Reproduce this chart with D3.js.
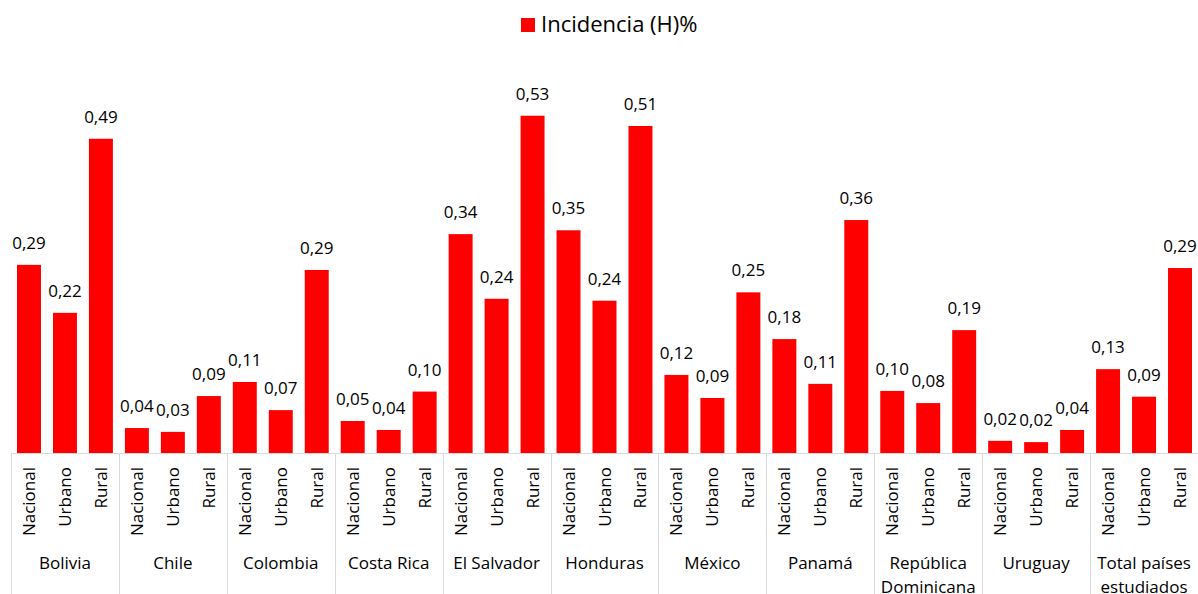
<!DOCTYPE html>
<html>
<head>
<meta charset="utf-8">
<script src="https://cdn.jsdelivr.net/npm/d3@7"></script>
<style>
  html, body { margin: 0; padding: 0; background: #fff; }
  svg { display: block; }
  text { font-family: "Open Sans", "Noto Sans", sans-serif; fill: #000; }
</style>
</head>
<body>
<svg id="chart" width="1198" height="594"></svg>
<script>
const countries = ["Bolivia", "Chile", "Colombia", "Costa Rica", "El Salvador", "Honduras", "México", "Panamá", "República Dominicana", "Uruguay", "Total países estudiados"];
const areas = ["Nacional", "Urbano", "Rural"];
const seriesName = "Incidencia (H)%";
const nacional = [0.294, 0.039, 0.111, 0.050, 0.342, 0.348, 0.122, 0.178, 0.097, 0.019, 0.131];
const urbano   = [0.219, 0.033, 0.067, 0.036, 0.241, 0.238, 0.086, 0.108, 0.078, 0.017, 0.088];
const rural    = [0.491, 0.089, 0.286, 0.096, 0.527, 0.511, 0.251, 0.364, 0.192, 0.036, 0.289];

const W = 1198, H = 594;
const left = 11, right = 1198, baseY = 453;
const svg = d3.select("#chart");

const data = [];
countries.forEach((c, i) => {
  [nacional[i], urbano[i], rural[i]].forEach((v, j) => {
    data.push({ key: c + "|" + areas[j], country: c, area: areas[j], value: v });
  });
});

const x = d3.scaleBand().domain(data.map(d => d.key)).range([left, right])
  .paddingInner(1/3).paddingOuter(1/6);
const xg = d3.scaleBand().domain(countries).range([left, right]);
const y = d3.scaleLinear().domain([0, 0.6]).range([baseY, baseY - 0.6 * 640]);

// bars
svg.append("g").selectAll("rect").data(data).join("rect")
  .attr("x", d => x(d.key))
  .attr("width", x.bandwidth())
  .attr("y", d => y(d.value))
  .attr("height", d => y(0) - y(d.value))
  .attr("fill", "#ff0000");

// value labels
const fmt = v => v.toFixed(2).replace(".", ",");
svg.append("g").selectAll("text").data(data).join("text")
  .attr("x", d => x(d.key) + x.bandwidth() / 2)
  .attr("y", d => y(d.value) - 16)
  .attr("text-anchor", "middle")
  .attr("font-size", 17)
  .text(d => fmt(d.value));

// axis lines
const axisG = svg.append("g");
axisG.append("line")
  .attr("x1", left).attr("x2", right)
  .attr("y1", baseY + 0.5).attr("y2", baseY + 0.5)
  .attr("stroke", "#d9d9d9").attr("stroke-width", 1);
const seps = countries.map(c => xg(c)).concat([right - 0.5]);
axisG.selectAll("line.sep").data(seps).join("line")
  .attr("class", "sep")
  .attr("x1", d => Math.round(d) + 0.5).attr("x2", d => Math.round(d) + 0.5)
  .attr("y1", baseY).attr("y2", H)
  .attr("stroke", "#d9d9d9").attr("stroke-width", 1);

// sub-category labels (rotated)
axisG.selectAll("text.area").data(data).join("text")
  .attr("class", "area")
  .attr("transform", d => `translate(${x(d.key) + x.bandwidth() / 2 + 6},467) rotate(-90)`)
  .attr("text-anchor", "end")
  .attr("font-size", 17)
  .text(d => d.area);

// country labels with wrapping
const cl = axisG.selectAll("text.country").data(countries).join("text")
  .attr("class", "country")
  .attr("x", d => xg(d) + xg.bandwidth() / 2)
  .attr("y", 569)
  .attr("text-anchor", "middle")
  .attr("font-size", 17);
cl.each(function(d) {
  const t = d3.select(this);
  const words = d.split(" ");
  const maxW = xg.bandwidth() - 4;
  let line = [];
  let tspan = t.append("tspan").attr("x", xg(d) + xg.bandwidth() / 2).attr("dy", 0);
  words.forEach(w => {
    line.push(w);
    tspan.text(line.join(" "));
    if (tspan.node().getComputedTextLength() > maxW && line.length > 1) {
      line.pop();
      tspan.text(line.join(" "));
      line = [w];
      tspan = t.append("tspan").attr("x", xg(d) + xg.bandwidth() / 2).attr("dy", 24).text(w);
    }
  });
});

// legend
const lg = svg.append("g");
lg.append("rect").attr("x", 521).attr("y", 18).attr("width", 14).attr("height", 14).attr("fill", "#ff0000");
lg.append("text").attr("x", 541).attr("y", 32).attr("font-size", 22).text(seriesName);
</script>
</body>
</html>
